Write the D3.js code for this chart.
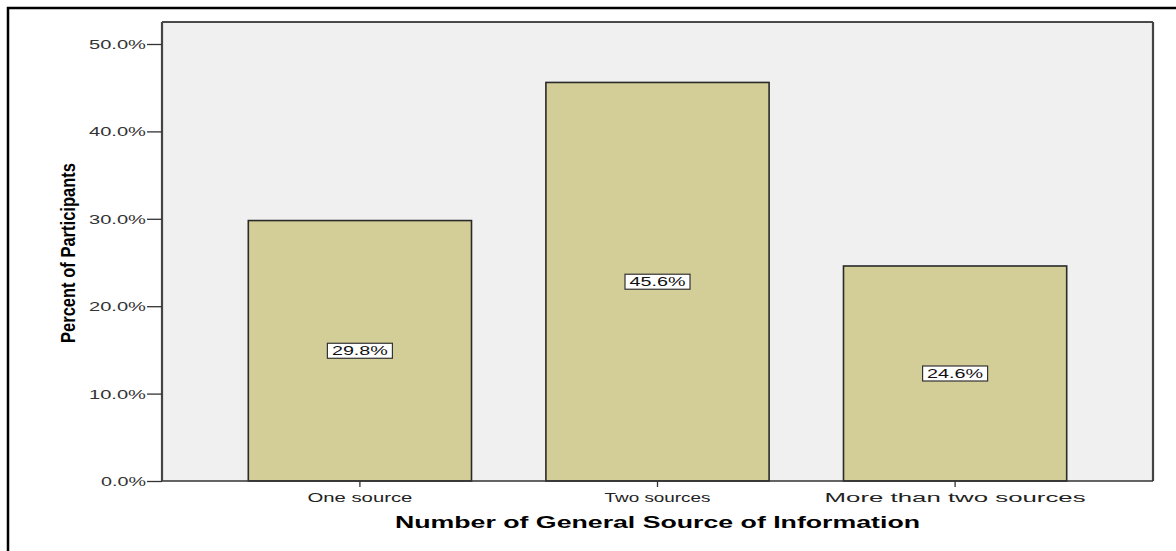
<!DOCTYPE html>
<html>
<head>
<meta charset="utf-8">
<script src="https://cdn.jsdelivr.net/npm/d3@7"></script>
<style>
html,body{margin:0;padding:0;background:#fff;}
svg{display:block;}
</style>
</head>
<body>
<svg id="chart" width="1176" height="551"></svg>
<script>
const categories = ["One source", "Two sources", "More than two sources"];
const values = [29.8, 45.6, 24.6];
const yTicks = [0, 10, 20, 30, 40, 50];
const yTitle = "Percent of Participants";
const xTitle = "Number of General Source of Information";

const svg = d3.select("#chart");
const W = 1176, H = 551;
const m = {left: 162, top: 22, right: 1153, bottom: 481};
const FONT = "'Liberation Sans', Arial, sans-serif";

// outer frame (left + top)
svg.append("path").attr("d", `M8,${H} L8,8 L${W},8`).attr("fill","none").attr("stroke","#000").attr("stroke-width",2.5);

const x = d3.scaleBand().domain(categories).range([m.left, m.right]).paddingInner(0.25).paddingOuter(0.29);
const y = d3.scaleLinear().domain([0, 50]).range([m.bottom, 44]);

// plot background
svg.append("rect").attr("x", m.left).attr("y", m.top).attr("width", m.right - m.left).attr("height", m.bottom - m.top)
  .attr("fill", "#f0f0f0");

// bars
svg.selectAll("rect.bar").data(values).enter().append("rect").attr("class","bar")
  .attr("x", (d,i) => x(categories[i]))
  .attr("y", d => y(d))
  .attr("width", x.bandwidth())
  .attr("height", d => y(0) - y(d))
  .attr("fill", "#d3ce97")
  .attr("stroke", "#2a2a2a")
  .attr("stroke-width", 1.6);

// plot frame
svg.append("path").attr("d", `M${m.left},${m.top} L${m.right},${m.top}`).attr("stroke","#111").attr("stroke-width",1.5);
svg.append("path").attr("d", `M${m.right},${m.top} L${m.right},${m.bottom}`).attr("stroke","#444").attr("stroke-width",2.2);
svg.append("path").attr("d", `M${m.left},${m.bottom} L${m.right},${m.bottom}`).attr("stroke","#333").attr("stroke-width",1.6);

// y axis
const yAxis = d3.axisLeft(y).tickValues(yTicks).tickSize(15).tickPadding(1).tickFormat(d => d.toFixed(1) + "%");
const gy = svg.append("g").attr("transform", `translate(${m.left},0)`).call(yAxis);
gy.select(".domain").attr("d", `M0,${m.top}V${m.bottom}`).attr("stroke","#444").attr("stroke-width",2.2);
gy.selectAll(".tick line").attr("stroke","#333").attr("stroke-width",1.3);
gy.selectAll(".tick text").attr("font-family",FONT).attr("font-size",12.5)
  .attr("fill","#333").attr("dy","0.36em")
  .attr("textLength", d => d === 0 ? 45 : 57).attr("lengthAdjust","spacingAndGlyphs");

// x axis
const xAxis = d3.axisBottom(x).tickSize(6).tickPadding(6);
const gx = svg.append("g").attr("transform", `translate(0,${m.bottom})`).call(xAxis);
gx.select(".domain").remove();
gx.selectAll(".tick line").attr("stroke","#333").attr("stroke-width",1.3);
const xw = [105, 106, 261];
gx.selectAll(".tick text").attr("font-family",FONT).attr("font-size",12.5)
  .attr("fill","#222").attr("textLength", (d,i) => xw[i]).attr("lengthAdjust","spacingAndGlyphs");

// value labels
const lg = svg.selectAll("g.lbl").data(values).enter().append("g").attr("class","lbl")
  .attr("transform", (d,i) => `translate(${x(categories[i]) + x.bandwidth()/2},${(y(d) + y(0))/2})`);
lg.append("rect").attr("x",-32.5).attr("y",-7.5).attr("width",65).attr("height",15)
  .attr("fill","#fff").attr("stroke","#333").attr("stroke-width",1.2);
lg.append("text").attr("text-anchor","middle").attr("dy","0.36em")
  .attr("font-family",FONT).attr("font-size",12.5).attr("fill","#111")
  .attr("textLength", 56).attr("lengthAdjust","spacingAndGlyphs")
  .text(d => d.toFixed(1) + "%");

// titles
svg.append("text").attr("transform", `translate(75,253) rotate(-90)`)
  .attr("text-anchor","middle")
  .attr("font-family","'Liberation Sans Narrow', 'Liberation Sans', Arial, sans-serif")
  .attr("font-weight","bold").attr("font-size",20).attr("fill","#000")
  .attr("textLength", 180).attr("lengthAdjust","spacingAndGlyphs")
  .text(yTitle);

svg.append("text").attr("x", (x(categories[1]) + x.bandwidth()/2)).attr("y", 528)
  .attr("text-anchor","middle")
  .attr("font-family",FONT)
  .attr("font-weight","bold").attr("font-size",17).attr("fill","#000")
  .attr("textLength", 525).attr("lengthAdjust","spacingAndGlyphs")
  .text(xTitle);
</script>
</body>
</html>
